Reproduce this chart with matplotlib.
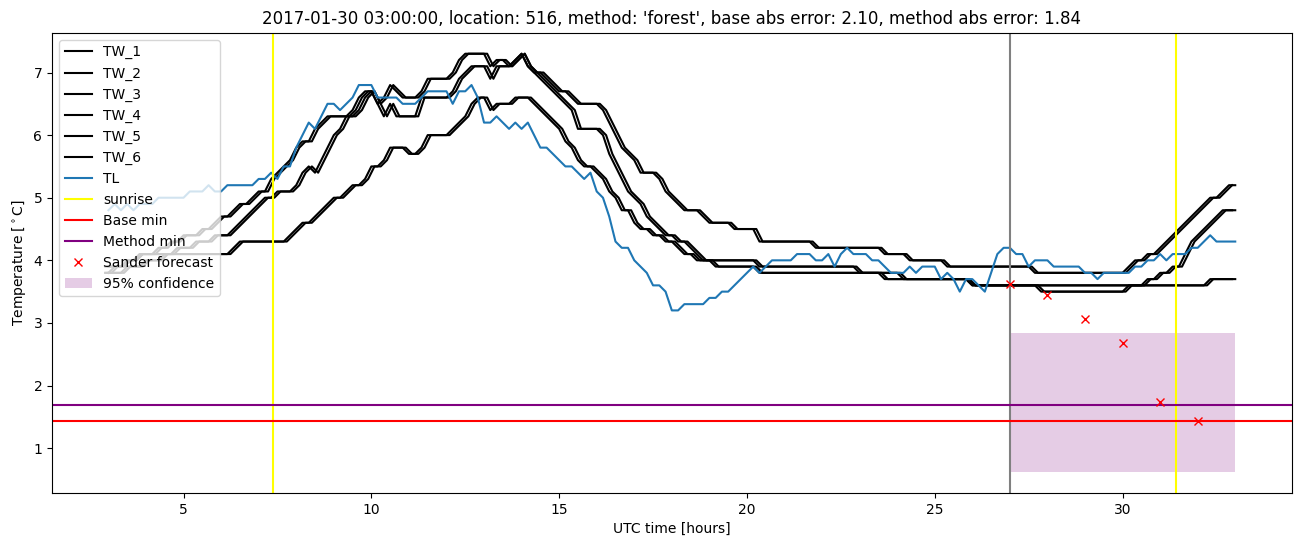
import numpy as np
import matplotlib
matplotlib.use("Agg")
from matplotlib import pyplot as plt

# 10-minute samples from 03:00 to 33:00 UTC (hours since start of day)
hours = np.arange(181) / 6 + 3
# the second sensor of each pair is read 5 minutes earlier
hours_b = hours - 1 / 12

tw_1 = [3.9, 3.9, 3.9, 4.0, 4.0, 4.1,
        4.1, 4.1, 4.2, 4.2, 4.3, 4.3,
        4.4, 4.4, 4.4, 4.5, 4.5, 4.6,
        4.7, 4.7, 4.8, 4.9, 4.9, 5.0,
        5.1, 5.1, 5.3, 5.4, 5.5, 5.6,
        5.8, 5.9, 5.9, 6.1, 6.2, 6.3,
        6.3, 6.3, 6.3, 6.4, 6.6, 6.7,
        6.7, 6.5, 6.6, 6.8, 6.7, 6.6,
        6.6, 6.6, 6.7, 6.9, 6.9, 6.9,
        6.9, 7.0, 7.2, 7.3, 7.3, 7.3,
        7.3, 7.1, 7.2, 7.2, 7.1, 7.2,
        7.3, 7.1, 7.0, 7.0, 6.9, 6.8,
        6.7, 6.7, 6.6, 6.5, 6.5, 6.5,
        6.5, 6.4, 6.2, 6.0, 5.8, 5.7,
        5.6, 5.4, 5.4, 5.4, 5.3, 5.1,
        5.0, 4.9, 4.8, 4.8, 4.8, 4.7,
        4.6, 4.6, 4.6, 4.6, 4.5, 4.5,
        4.5, 4.5, 4.3, 4.3, 4.3, 4.3,
        4.3, 4.3, 4.3, 4.3, 4.3, 4.2,
        4.2, 4.2, 4.2, 4.2, 4.2, 4.2,
        4.2, 4.2, 4.2, 4.2, 4.1, 4.1,
        4.1, 4.1, 4.0, 4.0, 4.0, 4.0,
        4.0, 4.0, 3.9, 3.9, 3.9, 3.9,
        3.9, 3.9, 3.9, 3.9, 3.9, 3.9,
        3.9, 3.9, 3.9, 3.9, 3.8, 3.8,
        3.8, 3.8, 3.8, 3.8, 3.8, 3.8,
        3.8, 3.8, 3.8, 3.8, 3.8, 3.8,
        3.8, 3.9, 4.0, 4.0, 4.1, 4.1,
        4.2, 4.3, 4.4, 4.5, 4.6, 4.7,
        4.8, 4.9, 5.0, 5.0, 5.1, 5.2,
        5.2]

tw_2 = [3.9, 3.9, 3.9, 3.9, 4.0, 4.0,
        4.1, 4.1, 4.1, 4.2, 4.2, 4.3,
        4.3, 4.4, 4.4, 4.4, 4.5, 4.5,
        4.6, 4.7, 4.7, 4.8, 4.9, 4.9,
        5.0, 5.1, 5.1, 5.3, 5.4, 5.5,
        5.6, 5.8, 5.9, 5.9, 6.1, 6.2,
        6.3, 6.3, 6.3, 6.3, 6.4, 6.6,
        6.7, 6.7, 6.5, 6.6, 6.8, 6.7,
        6.6, 6.6, 6.6, 6.7, 6.9, 6.9,
        6.9, 6.9, 7.0, 7.2, 7.3, 7.3,
        7.3, 7.3, 7.1, 7.2, 7.2, 7.1,
        7.2, 7.3, 7.1, 7.0, 7.0, 6.9,
        6.8, 6.7, 6.7, 6.6, 6.5, 6.5,
        6.5, 6.5, 6.4, 6.2, 6.0, 5.8,
        5.7, 5.6, 5.4, 5.4, 5.4, 5.3,
        5.1, 5.0, 4.9, 4.8, 4.8, 4.8,
        4.7, 4.6, 4.6, 4.6, 4.6, 4.5,
        4.5, 4.5, 4.5, 4.3, 4.3, 4.3,
        4.3, 4.3, 4.3, 4.3, 4.3, 4.3,
        4.2, 4.2, 4.2, 4.2, 4.2, 4.2,
        4.2, 4.2, 4.2, 4.2, 4.2, 4.1,
        4.1, 4.1, 4.1, 4.0, 4.0, 4.0,
        4.0, 4.0, 4.0, 3.9, 3.9, 3.9,
        3.9, 3.9, 3.9, 3.9, 3.9, 3.9,
        3.9, 3.9, 3.9, 3.9, 3.9, 3.8,
        3.8, 3.8, 3.8, 3.8, 3.8, 3.8,
        3.8, 3.8, 3.8, 3.8, 3.8, 3.8,
        3.8, 3.8, 3.9, 4.0, 4.0, 4.1,
        4.1, 4.2, 4.3, 4.4, 4.5, 4.6,
        4.7, 4.8, 4.9, 5.0, 5.0, 5.1,
        5.2]

tw_3 = [3.8, 3.8, 3.8, 3.9, 3.9, 3.9,
        4.0, 4.0, 4.0, 4.1, 4.1, 4.2,
        4.2, 4.2, 4.3, 4.3, 4.3, 4.4,
        4.4, 4.4, 4.5, 4.6, 4.7, 4.8,
        4.9, 5.0, 5.0, 5.1, 5.1, 5.1,
        5.2, 5.4, 5.5, 5.4, 5.6, 5.8,
        6.0, 6.1, 6.3, 6.3, 6.4, 6.6,
        6.7, 6.5, 6.3, 6.5, 6.3, 6.3,
        6.3, 6.3, 6.6, 6.6, 6.6, 6.6,
        6.6, 6.7, 6.9, 7.0, 7.1, 7.1,
        7.1, 6.9, 7.1, 7.1, 7.1, 7.2,
        7.3, 7.1, 7.0, 6.9, 6.8, 6.7,
        6.6, 6.5, 6.4, 6.1, 6.1, 6.1,
        6.1, 6.0, 5.7, 5.5, 5.3, 5.1,
        5.0, 4.9, 4.7, 4.6, 4.5, 4.4,
        4.4, 4.3, 4.3, 4.2, 4.1, 4.0,
        4.0, 4.0, 4.0, 4.0, 4.0, 4.0,
        4.0, 4.0, 3.9, 3.9, 3.9, 3.9,
        3.9, 3.9, 3.9, 3.9, 3.9, 3.9,
        3.9, 3.9, 3.9, 3.9, 3.9, 3.9,
        3.8, 3.8, 3.8, 3.8, 3.8, 3.8,
        3.8, 3.7, 3.7, 3.7, 3.7, 3.7,
        3.7, 3.7, 3.7, 3.7, 3.7, 3.7,
        3.6, 3.6, 3.6, 3.6, 3.6, 3.6,
        3.6, 3.6, 3.6, 3.6, 3.6, 3.5,
        3.5, 3.5, 3.5, 3.5, 3.5, 3.5,
        3.5, 3.5, 3.5, 3.5, 3.5, 3.5,
        3.5, 3.6, 3.6, 3.6, 3.7, 3.7,
        3.8, 3.8, 3.9, 3.9, 4.1, 4.3,
        4.4, 4.5, 4.6, 4.7, 4.8, 4.8,
        4.8]

tw_4 = [3.8, 3.8, 3.8, 3.8, 3.9, 3.9,
        3.9, 4.0, 4.0, 4.0, 4.1, 4.1,
        4.2, 4.2, 4.2, 4.3, 4.3, 4.3,
        4.4, 4.4, 4.4, 4.5, 4.6, 4.7,
        4.8, 4.9, 5.0, 5.0, 5.1, 5.1,
        5.1, 5.2, 5.4, 5.5, 5.4, 5.6,
        5.8, 6.0, 6.1, 6.3, 6.3, 6.4,
        6.6, 6.7, 6.5, 6.3, 6.5, 6.3,
        6.3, 6.3, 6.3, 6.6, 6.6, 6.6,
        6.6, 6.6, 6.7, 6.9, 7.0, 7.1,
        7.1, 7.1, 6.9, 7.1, 7.1, 7.1,
        7.2, 7.3, 7.1, 7.0, 6.9, 6.8,
        6.7, 6.6, 6.5, 6.4, 6.1, 6.1,
        6.1, 6.1, 6.0, 5.7, 5.5, 5.3,
        5.1, 5.0, 4.9, 4.7, 4.6, 4.5,
        4.4, 4.4, 4.3, 4.3, 4.2, 4.1,
        4.0, 4.0, 4.0, 4.0, 4.0, 4.0,
        4.0, 4.0, 4.0, 3.9, 3.9, 3.9,
        3.9, 3.9, 3.9, 3.9, 3.9, 3.9,
        3.9, 3.9, 3.9, 3.9, 3.9, 3.9,
        3.9, 3.8, 3.8, 3.8, 3.8, 3.8,
        3.8, 3.8, 3.7, 3.7, 3.7, 3.7,
        3.7, 3.7, 3.7, 3.7, 3.7, 3.7,
        3.7, 3.6, 3.6, 3.6, 3.6, 3.6,
        3.6, 3.6, 3.6, 3.6, 3.6, 3.6,
        3.5, 3.5, 3.5, 3.5, 3.5, 3.5,
        3.5, 3.5, 3.5, 3.5, 3.5, 3.5,
        3.5, 3.5, 3.6, 3.6, 3.6, 3.7,
        3.7, 3.8, 3.8, 3.9, 3.9, 4.1,
        4.3, 4.4, 4.5, 4.6, 4.7, 4.8,
        4.8]

tw_5 = [3.8, 3.9, 3.9, 4.0, 4.0, 4.1,
        4.1, 4.1, 4.1, 4.1, 4.1, 4.1,
        4.1, 4.1, 4.1, 4.1, 4.1, 4.1,
        4.1, 4.1, 4.2, 4.3, 4.3, 4.3,
        4.3, 4.3, 4.3, 4.3, 4.3, 4.4,
        4.5, 4.6, 4.6, 4.7, 4.8, 4.9,
        5.0, 5.0, 5.1, 5.2, 5.2, 5.3,
        5.5, 5.5, 5.6, 5.8, 5.8, 5.8,
        5.7, 5.7, 5.8, 6.0, 6.0, 6.0,
        6.0, 6.1, 6.2, 6.3, 6.5, 6.6,
        6.6, 6.4, 6.5, 6.5, 6.5, 6.6,
        6.6, 6.6, 6.5, 6.4, 6.3, 6.2,
        6.1, 5.9, 5.8, 5.6, 5.5, 5.5,
        5.4, 5.3, 5.1, 5.0, 4.8, 4.8,
        4.6, 4.5, 4.5, 4.4, 4.4, 4.3,
        4.3, 4.2, 4.1, 4.1, 4.0, 4.0,
        4.0, 3.9, 3.9, 3.9, 3.9, 3.9,
        3.9, 3.9, 3.8, 3.8, 3.8, 3.8,
        3.8, 3.8, 3.8, 3.8, 3.8, 3.8,
        3.8, 3.8, 3.8, 3.8, 3.8, 3.8,
        3.8, 3.8, 3.8, 3.8, 3.7, 3.7,
        3.7, 3.7, 3.7, 3.7, 3.7, 3.7,
        3.7, 3.7, 3.7, 3.7, 3.7, 3.7,
        3.6, 3.6, 3.6, 3.6, 3.6, 3.6,
        3.6, 3.6, 3.6, 3.6, 3.6, 3.6,
        3.6, 3.6, 3.6, 3.6, 3.6, 3.6,
        3.6, 3.6, 3.6, 3.6, 3.6, 3.6,
        3.6, 3.6, 3.6, 3.6, 3.6, 3.6,
        3.6, 3.6, 3.6, 3.6, 3.6, 3.6,
        3.6, 3.6, 3.7, 3.7, 3.7, 3.7,
        3.7]

tw_6 = [3.8, 3.8, 3.9, 3.9, 4.0, 4.0,
        4.1, 4.1, 4.1, 4.1, 4.1, 4.1,
        4.1, 4.1, 4.1, 4.1, 4.1, 4.1,
        4.1, 4.1, 4.1, 4.2, 4.3, 4.3,
        4.3, 4.3, 4.3, 4.3, 4.3, 4.3,
        4.4, 4.5, 4.6, 4.6, 4.7, 4.8,
        4.9, 5.0, 5.0, 5.1, 5.2, 5.2,
        5.3, 5.5, 5.5, 5.6, 5.8, 5.8,
        5.8, 5.7, 5.7, 5.8, 6.0, 6.0,
        6.0, 6.0, 6.1, 6.2, 6.3, 6.5,
        6.6, 6.6, 6.4, 6.5, 6.5, 6.5,
        6.6, 6.6, 6.6, 6.5, 6.4, 6.3,
        6.2, 6.1, 5.9, 5.8, 5.6, 5.5,
        5.5, 5.4, 5.3, 5.1, 5.0, 4.8,
        4.8, 4.6, 4.5, 4.5, 4.4, 4.4,
        4.3, 4.3, 4.2, 4.1, 4.1, 4.0,
        4.0, 4.0, 3.9, 3.9, 3.9, 3.9,
        3.9, 3.9, 3.9, 3.8, 3.8, 3.8,
        3.8, 3.8, 3.8, 3.8, 3.8, 3.8,
        3.8, 3.8, 3.8, 3.8, 3.8, 3.8,
        3.8, 3.8, 3.8, 3.8, 3.8, 3.7,
        3.7, 3.7, 3.7, 3.7, 3.7, 3.7,
        3.7, 3.7, 3.7, 3.7, 3.7, 3.7,
        3.7, 3.6, 3.6, 3.6, 3.6, 3.6,
        3.6, 3.6, 3.6, 3.6, 3.6, 3.6,
        3.6, 3.6, 3.6, 3.6, 3.6, 3.6,
        3.6, 3.6, 3.6, 3.6, 3.6, 3.6,
        3.6, 3.6, 3.6, 3.6, 3.6, 3.6,
        3.6, 3.6, 3.6, 3.6, 3.6, 3.6,
        3.6, 3.6, 3.6, 3.7, 3.7, 3.7,
        3.7]

tl = [4.8, 4.9, 4.8, 4.9, 4.8, 4.9,
      4.9, 4.9, 5.0, 5.0, 5.0, 5.0,
      5.0, 5.1, 5.1, 5.1, 5.2, 5.1,
      5.1, 5.2, 5.2, 5.2, 5.2, 5.2,
      5.3, 5.3, 5.4, 5.3, 5.5, 5.5,
      5.8, 6.0, 6.2, 6.1, 6.3, 6.5,
      6.5, 6.4, 6.5, 6.6, 6.8, 6.8,
      6.8, 6.6, 6.6, 6.6, 6.6, 6.5,
      6.5, 6.5, 6.6, 6.7, 6.7, 6.7,
      6.7, 6.5, 6.7, 6.7, 6.8, 6.6,
      6.2, 6.2, 6.3, 6.2, 6.1, 6.2,
      6.1, 6.2, 6.0, 5.8, 5.8, 5.7,
      5.6, 5.5, 5.5, 5.4, 5.3, 5.4,
      5.1, 5.0, 4.7, 4.3, 4.2, 4.2,
      4.0, 3.9, 3.8, 3.6, 3.6, 3.5,
      3.2, 3.2, 3.3, 3.3, 3.3, 3.3,
      3.4, 3.4, 3.5, 3.5, 3.6, 3.7,
      3.8, 3.9, 3.8, 3.9, 4.0, 4.0,
      4.0, 4.0, 4.1, 4.1, 4.1, 4.0,
      4.0, 4.1, 3.9, 4.1, 4.2, 4.1,
      4.1, 4.1, 4.0, 4.0, 3.9, 3.8,
      3.8, 3.8, 3.9, 3.8, 3.9, 3.9,
      3.9, 3.7, 3.8, 3.7, 3.5, 3.7,
      3.7, 3.6, 3.5, 3.8, 4.1, 4.2,
      4.2, 4.1, 4.1, 3.9, 4.0, 4.0,
      4.0, 3.9, 3.9, 3.9, 3.9, 3.9,
      3.8, 3.8, 3.7, 3.8, 3.8, 3.8,
      3.8, 3.8, 3.9, 3.9, 4.0, 4.0,
      4.1, 4.0, 4.1, 4.1, 4.1, 4.2,
      4.2, 4.3, 4.4, 4.3, 4.3, 4.3,
      4.3]

sunrise_hours = [7.39, 31.41]
forecast_start = 27
base_min = 1.43
method_min = 1.69

forecast_hours = [27, 28, 29, 30, 31, 32]
forecast_temp = [3.62, 3.44, 3.06, 2.68, 1.74, 1.43]

conf_hours = [27, 33]
conf_low = [0.62, 0.62]
conf_high = [2.84, 2.84]

title = ("2017-01-30 03:00:00, location: 516, method: 'forest', "
         "base abs error: 2.10, method abs error: 1.84")


fig, ax = plt.subplots(figsize=(13.02, 5.47), dpi=100)
fig.subplots_adjust(left=0.040, right=0.992, top=0.94, bottom=0.099)

water = [tw_1, tw_2, tw_3, tw_4, tw_5, tw_6]
for i, series in enumerate(water):
    t = hours if i % 2 == 0 else hours_b
    ax.plot(t, series, color="black", label=f"TW_{i + 1}")
ax.plot(hours, tl, color="tab:blue", label="TL")

ax.axvline(sunrise_hours[0], color="yellow", label="sunrise")
ax.axvline(sunrise_hours[1], color="yellow")
ax.axvline(forecast_start, color="grey")

ax.axhline(base_min, color="red", label="Base min")
ax.axhline(method_min, color="purple", label="Method min")

ax.plot(forecast_hours, forecast_temp, "rx", label="Sander forecast")
ax.fill_between(conf_hours, conf_low, conf_high, color="purple", alpha=0.2,
                linewidth=0, label="95% confidence")

ax.set_xlim(1.5, 34.5)
ax.set_title(title)
ax.set_xlabel("UTC time [hours]")
ax.set_ylabel(r"Temperature [$^\circ$C]")
ax.legend(loc="upper left")

fig.savefig("out.png")
